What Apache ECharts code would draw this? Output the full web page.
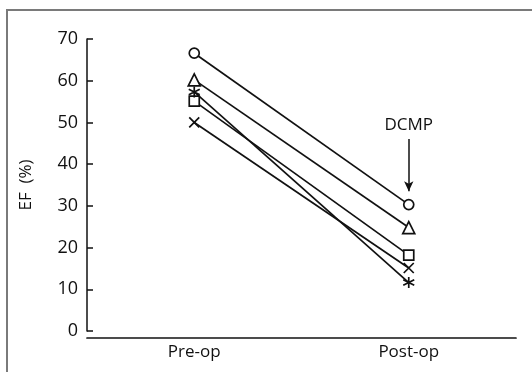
<!DOCTYPE html>
<html>
<head>
<meta charset="utf-8">
<script src="https://cdn.jsdelivr.net/npm/echarts@6/dist/echarts.min.js"></script>
<style>
  html, body { margin: 0; padding: 0; background: #fff; }
  #chart { width: 532px; height: 372px; }
</style>
</head>
<body>
<div id="chart"></div>
<script>
// data
const categories = ["Pre-op", "Post-op"];
const circleVals = [66.6, 30.3];
const triangleVals = [60.2, 24.8];
const squareVals = [55.1, 18.2];
const starVals = [57.3, 11.6];
const crossVals = [50, 15.1];
const yTicks = [0, 10, 20, 30, 40, 50, 60, 70];
const arrowFrom = 46;
const arrowTo = 33.5;

const chart = echarts.init(document.getElementById("chart"));

const ink = "#111";
const font = "Open Sans";
const crossPath = "path://M0,0L10,10M10,0L0,10";
const starPath = "path://M5,0L5,10M0.7,2.5L9.3,7.5M9.3,2.5L0.7,7.5";

function makeSeries(name, vals, symbol, size) {
  return {
    name: name,
    type: "line",
    data: vals,
    symbol: symbol,
    symbolSize: size,
    showSymbol: true,
    lineStyle: { color: ink, width: 1.7 },
    itemStyle: { color: "#fff", borderColor: ink, borderWidth: 1.7 },
    z: 3,
  };
}

const series = [
  makeSeries("circle", circleVals, "circle", 10),
  makeSeries("triangle", triangleVals, "triangle", 12),
  makeSeries("square", squareVals, "rect", 10),
  makeSeries("star", starVals, starPath, 11),
  makeSeries("cross", crossVals, crossPath, 10),
];

// arrow + DCMP label pointing at the post-op circle
series[0].markLine = {
  silent: true,
  symbol: ["none", "arrow"],
  symbolSize: [7, 10],
  lineStyle: { color: ink, width: 1.5, type: "solid" },
  label: {
    show: true,
    position: "start",
    formatter: "DCMP",
    color: ink,
    fontSize: 17,
    fontFamily: font,
    distance: 5,
  },
  data: [[
    { coord: ["Post-op", arrowFrom] },
    { coord: ["Post-op", arrowTo] },
  ]],
};

const option = {
  backgroundColor: "#fff",
  animation: false,
  graphic: [{
    type: "rect",
    shape: { x: 7, y: 10, width: 600, height: 400 },
    style: { fill: "none", stroke: "#7a7a7a", lineWidth: 2 },
    silent: true,
  }],
  grid: { left: 87, right: 16, top: 39, bottom: 41 },
  xAxis: {
    type: "category",
    data: categories,
    boundaryGap: true,
    offset: 7,
    axisLine: { onZero: false, lineStyle: { color: ink, width: 1.7 } },
    axisTick: { show: false },
    axisLabel: {
      color: ink,
      fontSize: 17,
      fontFamily: font,
      margin: 6,
    },
  },
  yAxis: {
    type: "value",
    min: 0,
    max: 70,
    interval: 10,
    name: "EF  (%)",
    nameLocation: "middle",
    nameGap: 52,
    nameRotate: 90,
    nameTextStyle: { color: ink, fontSize: 17, fontFamily: font },
    splitLine: { show: false },
    axisLine: { show: true, lineStyle: { color: ink, width: 1.5 } },
    axisTick: { show: true, inside: true, length: 6, lineStyle: { color: ink, width: 1.5 } },
    axisLabel: {
      color: ink,
      fontSize: 18,
      fontFamily: font,
      margin: 9,
      formatter: (v) => (yTicks.includes(v) ? String(v) : ""),
    },
  },
  series: series,
};

chart.setOption(option);
</script>
</body>
</html>
